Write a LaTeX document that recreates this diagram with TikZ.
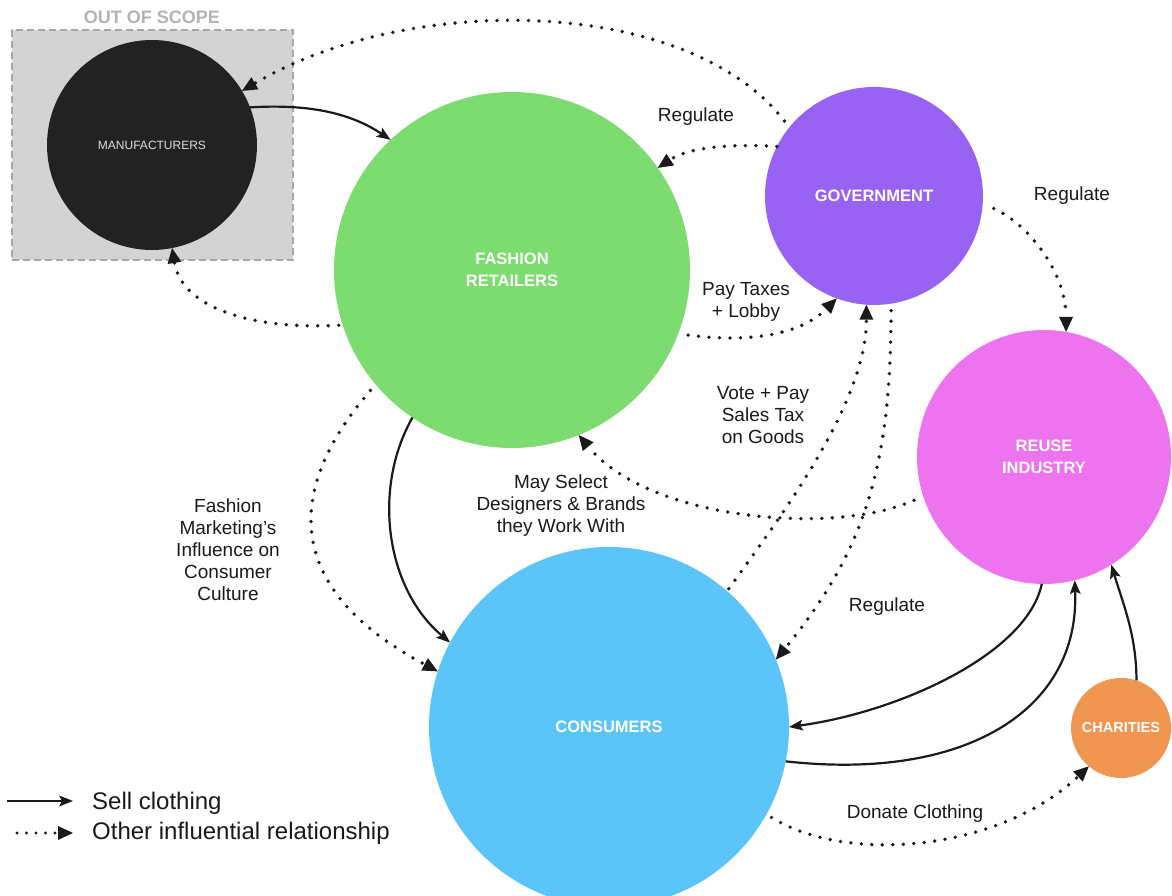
\documentclass[tikz,border=0pt]{standalone}
\usepackage{fontspec}
\setmainfont{Liberation Sans}
\usetikzlibrary{arrows.meta}

\definecolor{scopefill}{HTML}{D3D3D3}
\definecolor{scopeline}{HTML}{A8A8A8}
\definecolor{scopetext}{HTML}{B3B3B3}
\definecolor{mancol}{HTML}{222222}
\definecolor{mantext}{HTML}{DDDDDD}
\definecolor{retcol}{HTML}{7DDC6F}
\definecolor{govcol}{HTML}{9863F2}
\definecolor{reusecol}{HTML}{EE73EE}
\definecolor{conscol}{HTML}{5BC4F8}
\definecolor{charcol}{HTML}{F09650}
\definecolor{ink}{HTML}{1A1A1A}

\tikzset{
  actor/.style={circle, inner sep=0pt, outer sep=0pt, text=white, align=center,
    font=\bfseries\fontsize{16.5}{21.5}\selectfont},
  sell/.style={draw=ink, line width=2.2pt,
    -{Stealth[length=14pt,width=11pt,inset=3pt,line width=0pt]}},
  infl/.style={draw=ink, line width=3.8pt, line cap=round, dash pattern=on 0pt off 10.5pt,
    -{Triangle[length=15pt,width=14pt,line width=0pt]}},
  lbl/.style={align=center, inner sep=0pt, text=ink, font=\fontsize{19}{22}\selectfont},
  legendtext/.style={anchor=west, inner sep=0pt, text=ink, font=\fontsize{24}{28}\selectfont},
}

\begin{document}
\begin{tikzpicture}[x=1pt,y=1pt]
\useasboundingbox (0,0) rectangle (1172,896);
\clip (0,0) rectangle (1172,896);
\fill[white] (0,0) rectangle (1172,896);

% out-of-scope area
\node[rectangle, minimum width=281pt, minimum height=230pt, fill=scopefill,
      draw=scopeline, line width=2.5pt, dash pattern=on 7pt off 4pt] (scope) at (152.5,751) {};
\node[inner sep=0pt, text=scopetext, font=\bfseries\fontsize{18}{20}\selectfont] (scopelbl) at (152,879) {OUT OF SCOPE};

% actors
\node[actor, fill=mancol, minimum size=210pt, text=mantext, font=\fontsize{12}{14}\selectfont] (man) at (152,751) {MANUFACTURERS};
\node[actor, fill=retcol, minimum size=356pt] (fr) at (512,626) {FASHION\\RETAILERS};
\node[actor, fill=govcol, minimum size=218pt] (gov) at (874,700) {GOVERNMENT};
\node[actor, fill=reusecol, minimum size=254pt] (reuse) at (1044,439) {REUSE\\INDUSTRY};
\node[actor, fill=conscol, minimum size=360pt] (cons) at (609,169) {CONSUMERS};
\node[actor, fill=charcol, minimum size=100pt, font=\bfseries\fontsize{14.5}{17}\selectfont] (char) at (1121,168) {CHARITIES};

% selling clothing
\draw[sell] (man.21) .. controls +(50,3) and +(-45,30) .. (fr.133);
\draw[sell] (fr.236) .. controls +(-40,-70) and +(-65,55) .. (cons.152);
\draw[sell] (reuse.269) .. controls +(-15,-70) and +(110,15) .. (cons.0);
\draw[sell] (cons.349) .. controls +(180,-20) and +(5,-130) .. (reuse.284);
\draw[sell] (char.72) .. controls +(0,45) and +(12,-40) .. (reuse.302);

% other influential relationships
\draw[infl, shorten <=8pt] (gov.141) .. controls +(-100,130) and +(170,100) .. (man.31);
\draw[infl] (gov.153) .. controls +(-50,3) and +(30,20) .. (fr.35);
\draw[infl, shorten <=4pt] (fr.198) .. controls +(-90,-5) and +(10,-60) .. (man.281);
\draw[infl, shorten <=10pt] (fr.339) .. controls +(60,-8) and +(-40,-40) .. (gov.250);
\draw[infl, shorten <=12pt] (gov.356) .. controls +(45,-20) and +(0,60) .. (reuse.80);
\draw[infl, shorten <=10pt] (reuse.198) .. controls +(-90,-40) and +(70,-85) .. (fr.292);
\draw[infl, shorten <=3pt] (cons.49) .. controls +(50,70) and +(0,-100) .. (gov.266);
\draw[infl, shorten <=7pt] (gov.279) .. controls +(0,-160) and +(90,110) .. (cons.22);
\draw[infl, shorten <=8pt] (fr.220) .. controls +(-95,-110) and +(-150,80) .. (cons.162);
\draw[infl, shorten <=6pt] (cons.331) .. controls +(80,-50) and +(-90,-85) .. (char.230);

% relationship labels
\node[lbl] (lreg1) at (696,779) {Regulate};
\node[lbl] (lreg2) at (1072,700) {Regulate};
\node[lbl] (ltax) at (746,594) {Pay Taxes\\+ Lobby};
\node[lbl] (lvote) at (763,481) {Vote + Pay\\Sales Tax\\on Goods};
\node[lbl] (lsel) at (561,390) {May Select\\Designers \& Brands\\they Work With};
\node[lbl] (lmkt) at (228,346) {Fashion\\Marketing’s\\Influence on\\Consumer\\Culture};
\node[lbl] (lreg3) at (887,289) {Regulate};
\node[lbl] (ldon) at (915,82) {Donate Clothing};

% legend
\coordinate (ls0) at (7,95);
\coordinate (ls1) at (73,95);
\draw[sell] (ls0) -- (ls1);
\coordinate (ld0) at (17,63);
\coordinate (ld1) at (73,63);
\draw[infl, line width=3.2pt, dash pattern=on 0pt off 9.5pt] (ld0) -- (ld1);
\node[legendtext] (lgs) at (92,93) {Sell clothing};
\node[legendtext] (lgo) at (92,63) {Other influential relationship};
\end{tikzpicture}
\end{document}
